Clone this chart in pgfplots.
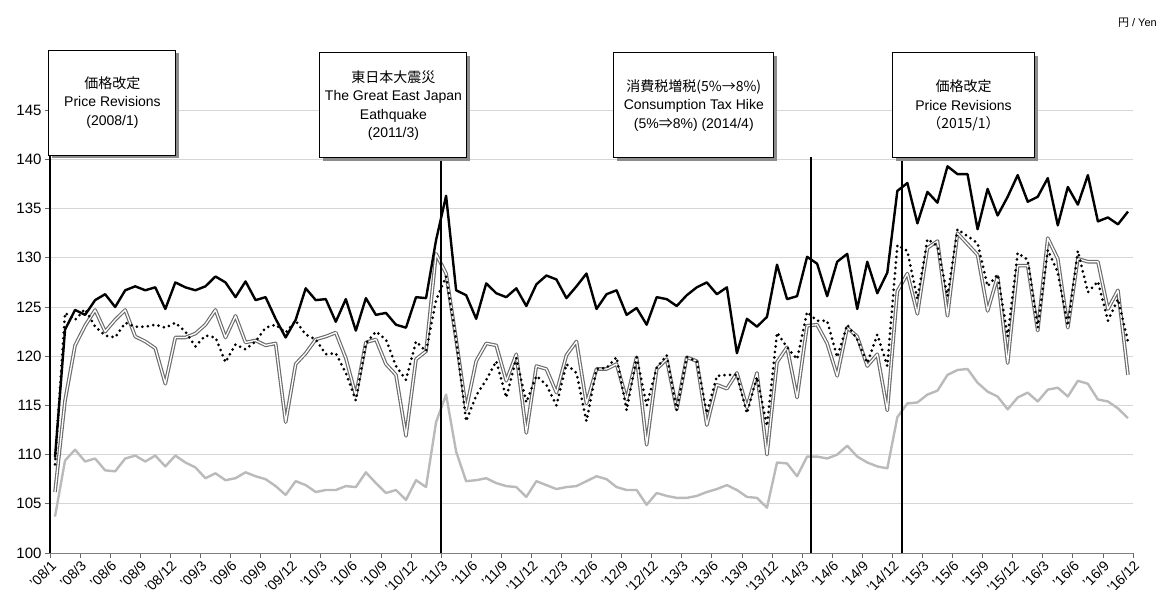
\documentclass[border=0pt]{standalone}
\usepackage{pgfplots}
\pgfplotsset{compat=1.18}
\usepackage{pgfplotstable}
\usepackage{fontspec}
\setmainfont{Liberation Sans}
\newfontfamily\jp{Noto Sans CJK JP}
\usetikzlibrary{shadows}

% monthly prices, 2008/1 .. 2016/12 (index 0 = 2008/1)
\pgfplotstableread{
i black dbl dot gray
0 109.7 106.2 109.0 103.7
1 122.7 115.5 124.4 109.4
2 124.7 121.1 123.7 110.5
3 124.2 123.1 124.8 109.3
4 125.7 124.7 123.0 109.6
5 126.3 122.5 122.1 108.4
6 125.0 123.7 121.9 108.3
7 126.7 124.7 123.4 109.6
8 127.1 122.0 123.0 109.9
9 126.7 121.5 123.0 109.3
10 127.0 120.8 123.2 109.9
11 124.8 117.2 122.9 108.8
12 127.5 121.9 123.4 109.9
13 127.0 121.9 122.5 109.2
14 126.7 122.3 121.0 108.7
15 127.1 123.2 122.1 107.6
16 128.1 124.7 121.9 108.1
17 127.5 121.9 119.4 107.4
18 126.0 124.1 121.2 107.6
19 127.6 121.4 120.7 108.2
20 125.7 121.6 121.5 107.8
21 126.0 121.1 122.9 107.5
22 123.8 121.3 123.2 106.8
23 121.9 113.3 122.4 105.9
24 123.7 119.2 123.6 107.3
25 126.9 120.3 122.2 106.9
26 125.7 121.7 121.7 106.2
27 125.8 122.0 120.2 106.4
28 123.5 122.4 120.3 106.4
29 125.8 119.8 118.3 106.8
30 122.6 116.0 115.5 106.7
31 125.9 121.4 121.3 108.2
32 124.2 121.7 122.5 107.1
33 124.4 119.2 121.7 106.1
34 123.2 118.1 119.0 106.4
35 122.9 111.9 117.6 105.4
36 126.0 119.7 121.5 107.4
37 125.9 120.5 120.5 106.7
38 131.8 130.4 125.7 113.3
39 136.3 128.4 128.1 116.1
40 126.7 121.7 121.7 110.3
41 126.2 114.6 113.4 107.3
42 123.8 119.5 116.0 107.4
43 127.4 121.3 117.6 107.6
44 126.4 121.1 119.5 107.1
45 126.0 117.5 115.8 106.8
46 126.9 120.2 119.8 106.7
47 125.1 112.2 115.3 105.7
48 127.3 119.0 118.0 107.3
49 128.2 118.7 117.1 106.9
50 127.8 116.3 115.0 106.5
51 125.9 120.1 119.2 106.7
52 127.1 121.5 118.3 106.8
53 128.4 115.2 113.4 107.3
54 124.8 118.7 118.7 107.8
55 126.3 118.7 118.8 107.5
56 126.7 119.2 119.9 106.7
57 124.2 115.6 114.5 106.4
58 124.9 119.9 119.9 106.4
59 123.2 111.0 115.0 104.9
60 126.0 118.7 118.8 106.1
61 125.8 119.7 120.1 105.8
62 125.1 114.6 114.5 105.6
63 126.2 119.9 119.9 105.6
64 127.0 119.5 119.5 105.8
65 127.5 113.0 114.2 106.2
66 126.3 117.1 118.0 106.5
67 127.0 116.7 118.1 106.9
68 120.3 118.3 118.1 106.4
69 123.8 114.8 114.2 105.7
70 123.0 118.3 117.9 105.6
71 124.0 110.0 112.9 104.6
72 129.3 119.4 122.4 109.2
73 125.8 120.9 120.9 109.1
74 126.1 115.8 119.7 107.8
75 130.1 123.1 124.5 109.8
76 129.4 123.2 123.6 109.8
77 126.1 121.3 123.6 109.6
78 129.6 118.0 119.9 110.0
79 130.4 122.9 123.2 110.9
80 124.8 122.0 121.7 109.8
81 129.6 119.0 119.3 109.2
82 126.4 120.2 122.2 108.8
83 128.5 114.5 119.0 108.6
84 136.8 126.6 131.3 113.8
85 137.6 128.4 130.7 115.2
86 133.5 124.3 125.8 115.3
87 136.7 131.0 131.9 116.1
88 135.6 131.7 131.2 116.5
89 139.3 124.1 126.1 118.1
90 138.5 132.5 132.9 118.6
91 138.5 131.4 132.2 118.7
92 132.9 130.3 131.5 117.3
93 137.0 124.6 127.1 116.4
94 134.3 128.1 128.3 115.9
95 136.2 119.3 122.0 114.6
96 138.4 129.2 130.5 115.8
97 135.7 129.2 129.8 116.3
98 136.2 122.6 122.9 115.4
99 138.1 132.0 130.8 116.6
100 133.3 129.9 128.5 116.8
101 137.2 122.9 123.1 115.9
102 135.4 129.9 130.7 117.5
103 138.4 129.6 126.5 117.2
104 133.7 129.6 127.6 115.6
105 134.1 124.8 123.6 115.4
106 133.4 126.7 125.8 114.7
107 134.7 118.1 121.5 113.7
}\prices

\tikzset{evbox/.style={draw=black, fill=white, line width=1pt, align=center,
  minimum height=105pt, inner sep=2pt,
  font=\fontsize{14}{18.3}\selectfont,
  drop shadow={shadow xshift=3pt, shadow yshift=-3pt, fill=black!45, opacity=1}}}

\begin{document}
\begin{tikzpicture}
\path[use as bounding box] (0pt,0pt) rectangle (1162pt,595pt);
\begin{axis}[
  at={(50pt,42pt)}, anchor=south west,
  scale only axis, width=1083pt, height=492pt,
  xmin=-0.5, xmax=107.5, ymin=100, ymax=150,
  clip=false,
  axis x line*=bottom, axis y line*=left,
  axis line style={black!50, line width=0.8pt},
  tick align=outside, major tick length=5pt,
  tick style={black!60, line width=0.8pt},
  xtick={-0.5,2.5,...,107.5},
  xticklabels={'08/1,'08/3,'08/6,'08/9,'08/12,'09/3,'09/6,'09/9,'09/12,'10/3,'10/6,'10/9,'10/12,'11/3,'11/6,'11/9,'11/12,'12/3,'12/6,'12/9,'12/12,'13/3,'13/6,'13/9,'13/12,'14/3,'14/6,'14/9,'14/12,'15/3,'15/6,'15/9,'15/12,'16/3,'16/6,'16/9,'16/12},
  xticklabel style={rotate=45, anchor=north east, inner sep=1pt, font=\fontsize{14}{14}\selectfont},
  ytick={100,105,...,145},
  yticklabels={100,105,110,115,120,125,130,135,140,145},
  yticklabel style={font=\fontsize{15}{15}\selectfont},
  ymajorgrids, grid style={black!16, line width=1pt},
  every axis plot/.append style={line join=round, mark=none},
]
\addplot[black!27, line width=2.4pt] table[x=i, y=gray] {\prices};
\addplot[black!58, line width=3.6pt] table[x=i, y=dbl] {\prices};
\addplot[white, line width=1.3pt] table[x=i, y=dbl] {\prices};
\addplot[black, line width=3pt, line cap=round, dash pattern=on 0pt off 5.5pt] table[x=i, y=dot] {\prices};
\addplot[black, line width=2.4pt] table[x=i, y=black] {\prices};

% event markers
\addplot[black, line width=2pt] coordinates {(-0.5,100) (-0.5,140.4)};
\addplot[black, line width=2pt] coordinates {(38.5,100) (38.5,140.2)};
\addplot[black, line width=2pt] coordinates {(75.4,100) (75.4,140.2)};
\addplot[black, line width=2pt] coordinates {(84.45,100) (84.45,140.2)};

\node[evbox, minimum width=127pt] at (axis cs:5.73,145.78)
  {{\jp 価格改定}\\Price Revisions\\(2008/1)};
\node[evbox, minimum width=147pt] at (axis cs:33.75,145.48)
  {{\jp 東日本大震災}\\The Great East Japan\\Eathquake\\(2011/3)};
\node[evbox, minimum width=160pt] at (axis cs:63.7,145.48)
  {{\jp 消費税増税(5\%→8\%)}\\Consumption Tax Hike\\(5\%{\jp ⇒}8\%) (2014/4)};
\node[evbox, minimum width=142pt] at (axis cs:90.6,145.48)
  {{\jp 価格改定}\\Price Revisions\\{\jp （2015/1）}};
\end{axis}
\node[anchor=east, font=\fontsize{11}{11}\selectfont, inner sep=0pt] at (1157pt,572pt) {{\jp 円} / Yen};
\end{tikzpicture}
\end{document}
